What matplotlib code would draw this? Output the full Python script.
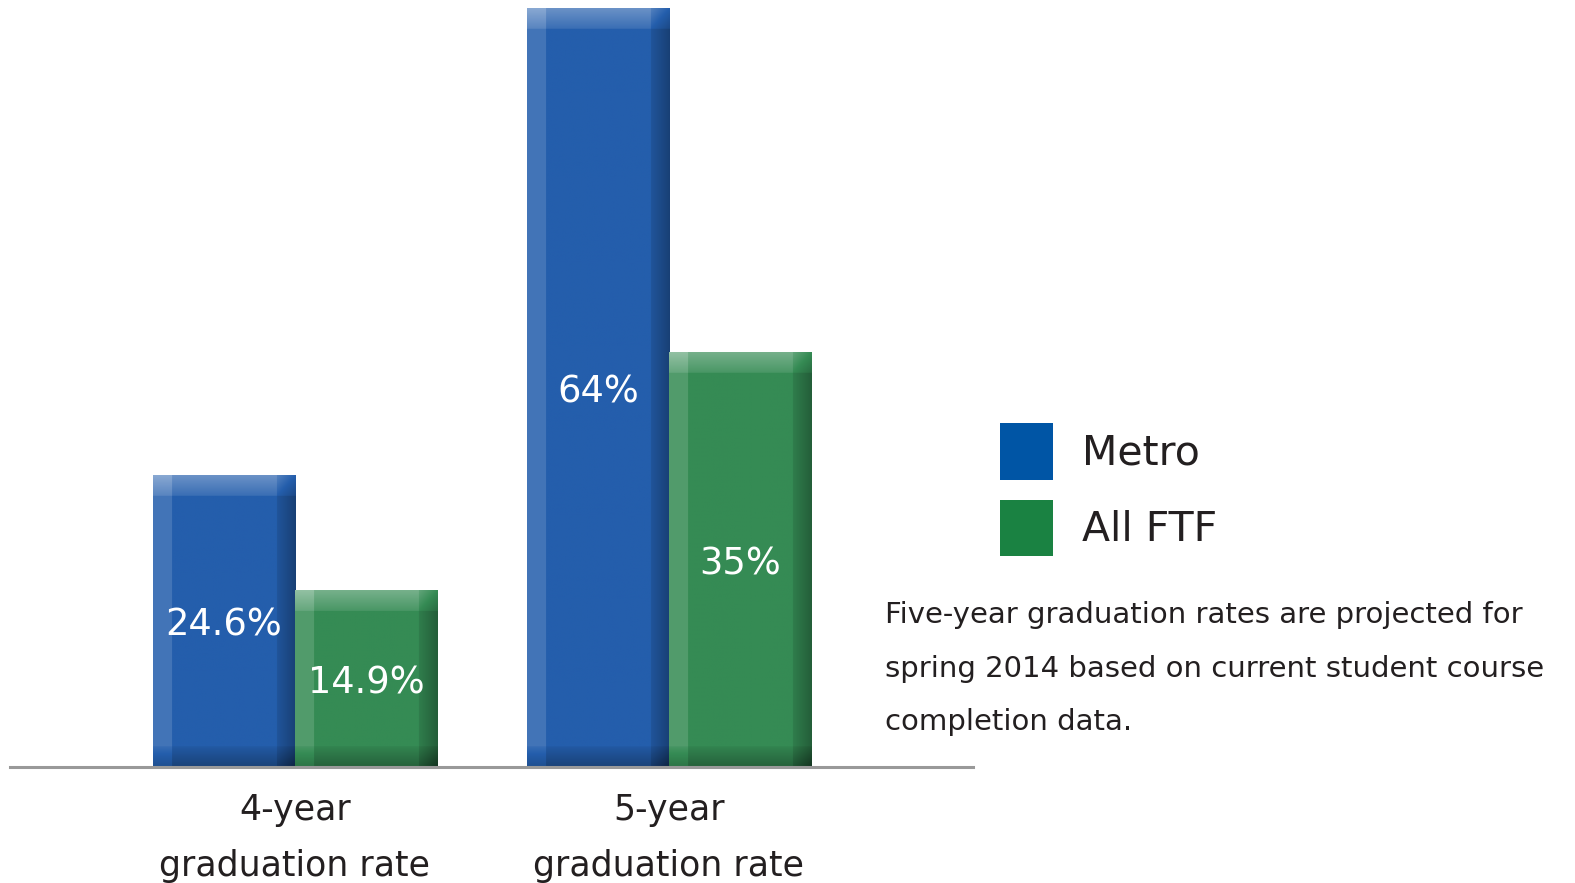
import numpy as np
import matplotlib
matplotlib.use("Agg")
import matplotlib.pyplot as plt
from matplotlib.patches import Patch
from matplotlib.colors import to_rgb

# data
groups = ["4-year\ngraduation rate", "5-year\ngraduation rate"]
series = ["Metro", "All FTF"]
metro = [24.6, 64]
ftf = [14.9, 35]
value_labels = [["24.6%", "64%"], ["14.9%", "35%"]]
note = ("Five-year graduation rates are projected for\n"
        "spring 2014 based on current student course\n"
        "completion data.")

bar_colors = ["#245eac", "#358b54"]
legend_colors = ["#0055a5", "#1a8242"]
FONT = ["DejaVu Sans"]

fig = plt.figure(figsize=(15.75, 8.83), dpi=100)
ax = fig.add_axes([10 / 1575, 116 / 883, 963 / 1575, 767 / 883])

x = np.arange(len(groups))
width = 0.38
ymax = 64.73


def bevel_bar(ax, xc, h, w, color):
    # flat bar first, then a shaded image on top of it to fake the bevel
    ax.bar(xc, h, w, color=color, linewidth=0, zorder=2)
    nx, ny = 150, max(int(h * 12), 10)
    xx = np.linspace(0, 1, nx)[None, :] * np.ones((ny, 1))
    yy = np.linspace(0, h, ny)[:, None] * np.ones((1, nx))
    shade = np.zeros((ny, nx))
    bx = 0.13
    by = 1.7
    left = xx < bx
    shade[left] += 0.14
    right = xx > 1 - bx
    shade[right] -= 0.1 + 0.22 * (xx[right] - (1 - bx)) / bx
    top = yy > h - by
    shade[top] += 0.22 * (yy[top] - (h - by)) / by + 0.1
    bot = yy < by
    shade[bot] -= 0.25 * (by - yy[bot]) / by + 0.05
    base = np.array(to_rgb(color))
    img = np.empty((ny, nx, 3))
    pos = np.clip(shade, 0, 1)[..., None]
    neg = np.clip(-shade, 0, 1)[..., None]
    img[:] = base
    img = img + (1 - img) * pos
    img = img * (1 - neg)
    ax.imshow(img, extent=(xc - w / 2, xc + w / 2, 0, h), origin="lower",
              aspect="auto", interpolation="bilinear", zorder=3)


for i in range(len(groups)):
    for j, vals in enumerate([metro, ftf]):
        xc = x[i] + (j - 0.5) * width
        bevel_bar(ax, xc, vals[i], width, bar_colors[j])
        ax.text(xc, vals[i] / 2, value_labels[j][i], ha="center",
                va="center_baseline", color="white", fontsize=26.5,
                family=FONT, zorder=4)

ax.set_xlim(-0.762, 1.813)
ax.set_ylim(0, ymax)
for s in ["top", "left", "right"]:
    ax.spines[s].set_visible(False)
ax.spines["bottom"].set_color("#999999")
ax.spines["bottom"].set_linewidth(2.2)
ax.spines["bottom"].set_zorder(5)
ax.set_yticks([])
ax.set_xticks(x)
ax.set_xticklabels(groups, fontsize=25, family=FONT, color="#231f20",
                   linespacing=1.8)
ax.tick_params(axis="x", length=0, pad=19)

handles = [Patch(facecolor=c, edgecolor="none") for c in legend_colors]
fig.legend(handles, series, loc="upper left",
           bbox_to_anchor=(1000 / 1575, 1 - 423 / 883), frameon=False,
           prop={"family": FONT, "size": 29.5}, handlelength=1.3,
           handleheight=1.75, handletextpad=0.7, labelspacing=0.49,
           borderpad=0, borderaxespad=0, labelcolor="#231f20")

fig.text(885 / 1575, 1 - 601 / 883, note, ha="left", va="top", fontsize=21,
         family=FONT, color="#231f20", linespacing=2.16)

fig.savefig("out.png", dpi=100)
